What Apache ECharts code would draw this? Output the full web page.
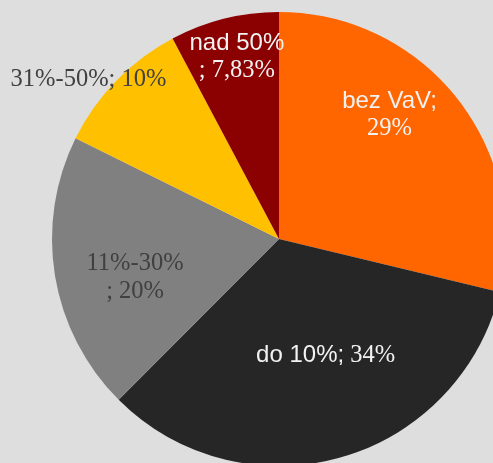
<!DOCTYPE html>
<html>
<head>
<meta charset="utf-8">
<script src="https://cdn.jsdelivr.net/npm/echarts@6/dist/echarts.min.js"></script>
<style>
html,body{margin:0;padding:0;background:#DEDEDE;}
#c{width:493px;height:463px;}
</style>
</head>
<body>
<div id="c"></div>
<script>
// Data
var categories = ['bez VaV', 'do 10%', '11%-30%', '31%-50%', 'nad 50%'];
var values = [29, 34, 20, 10, 7.83];
var colors = ['#FF6600', '#262626', '#808080', '#FFC000', '#8B0000'];

// Label styling (not data)
var labelFont = ['sans', 'sans', 'serif', 'serif', 'sans'];      // font of category part
var labelBreak = [true, false, true, false, true];                 // newline between name and value
var labelSep = [';', ';', '', ';', ''];                            // separator after name
var labelLight = [true, true, false, false, true];
var labelShift = [[19, -52], [15, 4], [-29, 20], [-107, -78], [-14, -69]];

function fmtValue(v) {
  return String(v).replace('.', ',') + '%';
}

var chart = echarts.init(document.getElementById('c'), null, {renderer: 'canvas'});

function richSet(col) {
  return {
    s: {fontFamily: 'Liberation Sans, Arial, sans-serif', fontSize: 24, color: col, lineHeight: 28, align: 'center'},
    n: {fontFamily: 'Liberation Serif, Times New Roman, serif', fontSize: 24.5, color: col, lineHeight: 28, align: 'center'}
  };
}

var data = categories.map(function (c, i) {
  var col = labelLight[i] ? '#F2F2F2' : '#404040';
  var f = labelFont[i] === 'sans' ? 's' : 'n';
  var txt;
  var sep = labelSep[i];
  if (labelBreak[i]) {
    if (sep) {
      txt = '{' + f + '|' + c + sep + '}\n{n|' + fmtValue(values[i]) + '}';
    } else {
      txt = '{' + f + '|' + c + '}\n{n|; ' + fmtValue(values[i]) + '}';
    }
  } else {
    txt = '{' + f + '|' + c + sep + '}{n| ' + fmtValue(values[i]) + '}';
  }
  return {
    name: c,
    value: values[i],
    itemStyle: {color: colors[i]},
    label: {formatter: txt, rich: richSet(col)}
  };
});

chart.setOption({
  backgroundColor: '#DEDEDE',
  animation: false,
  series: [{
    type: 'pie',
    center: [279, 239],
    radius: 227,
    startAngle: 90,
    clockwise: true,
    avoidLabelOverlap: false,
    label: {show: true, position: 'inside', align: 'center'},
    labelLine: {show: false},
    itemStyle: {borderWidth: 0},
    emphasis: {disabled: true},
    labelLayout: function (p) {
      var s = labelShift[p.dataIndex];
      return {dx: s[0], dy: s[1]};
    },
    data: data
  }]
});
</script>
</body>
</html>
